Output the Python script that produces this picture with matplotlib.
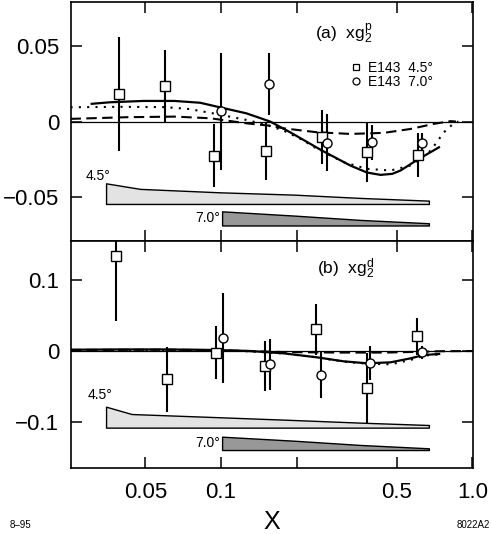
import matplotlib
matplotlib.use('Agg')
import matplotlib.pyplot as plt
from matplotlib.lines import Line2D
from matplotlib.ticker import NullLocator, FixedLocator, FixedFormatter

plt.rcParams['font.family'] = ['Liberation Sans', 'DejaVu Sans']
plt.rcParams['mathtext.fontset'] = 'custom'
plt.rcParams['mathtext.rm'] = 'Liberation Sans'
plt.rcParams['mathtext.it'] = 'Liberation Sans:italic'
plt.rcParams['mathtext.bf'] = 'Liberation Sans:bold'

# ---------------- data: panel (a) proton ----------------
p45_x = [0.0392, 0.0596, 0.0937, 0.1515, 0.2516, 0.3815, 0.605]
p45_y = [0.0182, 0.0238, -0.0226, -0.0197, -0.0104, -0.0204, -0.0224]
p45_e = [0.038, 0.024, 0.021, 0.019, 0.018, 0.0196, 0.0145]

p70_x = [0.100, 0.1546, 0.264, 0.3995, 0.632]
p70_y = [0.0068, 0.025, -0.0141, -0.0137, -0.0141]
p70_e = [0.039, 0.0205, 0.019, 0.0116, 0.0065]

p_solid_x = [0.0306, 0.0361, 0.0491, 0.0653, 0.0826, 0.100, 0.126, 0.157, 0.1888,
             0.2524, 0.327, 0.38, 0.431, 0.48, 0.5176, 0.6035, 0.7359]
p_solid_y = [0.0118, 0.0128, 0.0137, 0.0137, 0.0125, 0.0093, 0.0055, 0.0, -0.0072,
             -0.0193, -0.0292, -0.0338, -0.0354, -0.0347, -0.0325, -0.0254, -0.0171]

p_dot_x = [0.0252, 0.040, 0.060, 0.075, 0.0934, 0.1268, 0.1523, 0.1775, 0.21, 0.241,
           0.3078, 0.3813, 0.4722, 0.5674, 0.6818, 0.77, 0.844, 0.88]
p_dot_y = [0.0095, 0.0098, 0.0096, 0.0083, 0.0054, 0.0010, -0.0023, -0.006, -0.012,
           -0.0181, -0.027, -0.0314, -0.0325, -0.0292, -0.0193, -0.0071, -0.001, 0.0]

p_dash_x = [0.0252, 0.0422, 0.0653, 0.0906, 0.1268, 0.156, 0.1775, 0.241, 0.327,
            0.4444, 0.5674, 0.703, 0.82, 0.86]
p_dash_y = [0.0018, 0.0029, 0.0033, 0.0022, -0.0012, -0.0027, -0.0045, -0.0071,
            -0.0082, -0.0075, -0.0049, -0.0015, 0.0003, 0.0]

p_band45_x = [0.0349, 0.0477, 0.100, 0.1945, 0.3587, 0.671]
p_band45_top = [-0.041, -0.0447, -0.047, -0.0485, -0.0507, -0.0525]
p_band45_bot = -0.0547
p_band70_x = [0.101, 0.1945, 0.3587, 0.671]
p_band70_top = [-0.0596, -0.0624, -0.0653, -0.0675]
p_band70_bot = -0.069

# ---------------- data: panel (b) deuteron ----------------
d45_x = [0.0382, 0.0609, 0.0951, 0.149, 0.238, 0.379, 0.600]
d45_y = [0.1332, -0.0397, -0.0024, -0.0206, 0.0304, -0.0523, 0.0206]
d45_e = [0.091, 0.046, 0.037, 0.035, 0.036, 0.049, 0.026]

d70_x = [0.1014, 0.157, 0.250, 0.393, 0.628]
d70_y = [0.0187, -0.0187, -0.0341, -0.0168, -0.0018]
d70_e = [0.063, 0.036, 0.032, 0.024, 0.009]

d_solid_x = [0.0252, 0.040, 0.060, 0.080, 0.100, 0.1307, 0.1775, 0.241, 0.3078,
             0.3813, 0.4722, 0.5674, 0.641, 0.7372]
d_solid_y = [0.0018, 0.0022, 0.0022, 0.0018, 0.0012, 0.0, -0.0033, -0.0089, -0.0145,
             -0.0173, -0.0159, -0.0103, -0.0056, -0.0042]

d_dot_x = [0.0252, 0.060, 0.100, 0.1307, 0.1775, 0.241, 0.3078, 0.3813, 0.4722,
           0.5674, 0.641, 0.75]
d_dot_y = [0.0008, 0.0010, 0.0008, -0.0005, -0.0035, -0.009, -0.015, -0.0178,
           -0.0187, -0.0125, -0.0065, -0.0045]

d_dash_x = [0.0252, 0.060, 0.100, 0.1775, 0.300, 0.450, 0.600, 0.750, 1.0]
d_dash_y = [0.0015, 0.0018, 0.0010, -0.0015, -0.0022, -0.0022, -0.0012, -0.0003, 0.0]

d_band45_x = [0.0349, 0.0441, 0.100, 0.1945, 0.3587, 0.671]
d_band45_top = [-0.0781, -0.0884, -0.093, -0.0968, -0.1005, -0.1038]
d_band45_bot = -0.1075
d_band70_x = [0.101, 0.1945, 0.3587, 0.671]
d_band70_top = [-0.1202, -0.1258, -0.1318, -0.1365]
d_band70_bot = -0.1389

x_ticks = [0.05, 0.1, 0.2, 0.5, 1.0]
x_ticklabels = ["0.05", "0.1", "", "0.5", "1.0"]
p_yticks = [-0.05, 0.0, 0.05]
p_yticklabels = ["\u22120.05", "0", "0.05"]
d_yticks = [-0.1, 0.0, 0.1]
d_yticklabels = ["\u22120.1", "0", "0.1"]
legend_labels = ["E143  4.5\u00b0", "E143  7.0\u00b0"]

# ---------------- figure ----------------
fig = plt.figure(figsize=(4.92, 5.34), dpi=100)
L, W = 70.5 / 492, 402.5 / 492
axA = fig.add_axes([L, 1 - 241 / 534, W, 238.7 / 534])
axB = fig.add_axes([L, 1 - 467.7 / 534, W, 226.7 / 534])

LIGHT = '#e3e3e3'
DARK = '#989898'


def style_axes(ax, yticks, ylabels, ylim, show_x):
    ax.set_xscale('log')
    ax.set_xlim(0.0252, 1.005)
    ax.set_ylim(*ylim)
    ax.xaxis.set_major_locator(FixedLocator(x_ticks))
    ax.xaxis.set_minor_locator(NullLocator())
    if show_x:
        ax.xaxis.set_major_formatter(FixedFormatter(x_ticklabels))
    else:
        ax.xaxis.set_major_formatter(FixedFormatter([""] * len(x_ticks)))
    ax.set_yticks(yticks)
    ax.set_yticklabels(ylabels)
    ax.tick_params(axis='both', which='major', direction='in', top=True, right=True,
                   length=8, width=1.1, labelsize=16)
    ax.tick_params(axis='x', pad=10)
    ax.tick_params(axis='y', pad=8)
    for s in ax.spines.values():
        s.set_linewidth(1.2)
    ax.axhline(0, color='black', lw=0.9, zorder=1)


def draw_panel(ax, solid, dot, dash, b45, b70, s45, s70):
    ax.plot(*solid, color='black', lw=1.6, zorder=2)
    ax.plot(*dot, color='black', lw=1.5, linestyle=(0, (1, 3)), zorder=2)
    ax.plot(*dash, color='black', lw=1.5, linestyle=(0, (5, 2.6)), zorder=2)
    ax.fill_between(b45[0], b45[2], b45[1], facecolor=LIGHT, edgecolor='black', lw=1.0, zorder=2)
    ax.fill_between(b70[0], b70[2], b70[1], facecolor=DARK, edgecolor='black', lw=1.0, zorder=2)
    for (x, y, e, m) in (s45 + ('s',), s70 + ('o',)):
        ax.errorbar(x, y, yerr=e, fmt='none', ecolor='black', elinewidth=1.5, capsize=0, zorder=3)
        ax.plot(x, y, linestyle='none', marker=m, ms=6.5, mfc='white', mec='black', mew=1.0, zorder=4)


style_axes(axA, p_yticks, p_yticklabels, (-0.0793, 0.0792), False)
style_axes(axB, d_yticks, d_yticklabels, (-0.1637, 0.1543), True)

draw_panel(axA, (p_solid_x, p_solid_y), (p_dot_x, p_dot_y), (p_dash_x, p_dash_y),
           (p_band45_x, p_band45_top, p_band45_bot), (p_band70_x, p_band70_top, p_band70_bot),
           (p45_x, p45_y, p45_e), (p70_x, p70_y, p70_e))
draw_panel(axB, (d_solid_x, d_solid_y), (d_dot_x, d_dot_y), (d_dash_x, d_dash_y),
           (d_band45_x, d_band45_top, d_band45_bot), (d_band70_x, d_band70_top, d_band70_bot),
           (d45_x, d45_y, d45_e), (d70_x, d70_y, d70_e))

# band labels
axA.annotate("4.5\u00b0", xy=(p_band45_x[0], p_band45_top[0]), xytext=(-6, 5),
             textcoords='offset points', ha='center', va='center', fontsize=10)
axA.annotate("7.0\u00b0", xy=(p_band70_x[0], (p_band70_top[0] + p_band70_bot) / 2), xytext=(-1.5, 0),
             textcoords='offset points', ha='right', va='center', fontsize=10)
axB.annotate("4.5\u00b0", xy=(d_band45_x[0], d_band45_top[0]), xytext=(-4.5, 8.5),
             textcoords='offset points', ha='center', va='center', fontsize=10)
axB.annotate("7.0\u00b0", xy=(d_band70_x[0], (d_band70_top[0] + d_band70_bot) / 2), xytext=(-1.5, 0),
             textcoords='offset points', ha='right', va='center', fontsize=10)

# panel titles
axA.text(0.6075, 0.846, r"(a)  $\mathrm{xg}_{2}^{\mathrm{p}}$", transform=axA.transAxes,
         fontsize=12.5, ha='left', va='baseline')
axB.text(0.612, 0.855, r"(b)  $\mathrm{xg}_{2}^{\mathrm{d}}$", transform=axB.transAxes,
         fontsize=12.5, ha='left', va='baseline')

# legend
h1 = Line2D([], [], linestyle='none', marker='s', ms=5, mfc='white', mec='black', mew=0.9)
h2 = Line2D([], [], linestyle='none', marker='o', ms=5, mfc='white', mec='black', mew=0.9)
axA.legend([h1, h2], legend_labels, loc='upper left',
           bbox_to_anchor=(0.695, 0.755), frameon=False, fontsize=10, handlelength=0.8,
           handletextpad=0.45, labelspacing=0.0, borderpad=0, borderaxespad=0)

axB.set_xlabel("X", fontsize=18, labelpad=5)

fig.text(10 / 492, 1 - 525 / 534, "8\u201395", fontsize=7, ha='left', va='center')
fig.text(490 / 492, 1 - 525 / 534, "8022A2", fontsize=7, ha='right', va='center')

fig.savefig('out.png', dpi=100)
